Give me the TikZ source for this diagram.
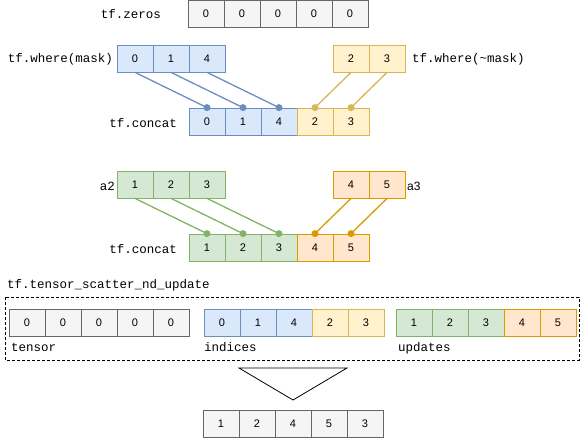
\documentclass[tikz,border=0pt]{standalone}
\usepackage{fontspec}
\setmainfont{Liberation Sans}
\setmonofont{Liberation Mono}
\definecolor{grayfill}{HTML}{F5F5F5}
\definecolor{graydraw}{HTML}{666666}
\definecolor{bluefill}{HTML}{DAE8FC}
\definecolor{bluedraw}{HTML}{6C8EBF}
\definecolor{yelfill}{HTML}{FFF2CC}
\definecolor{yeldraw}{HTML}{D6B656}
\definecolor{grnfill}{HTML}{D5E8D4}
\definecolor{grndraw}{HTML}{82B366}
\definecolor{orgfill}{HTML}{FFE6CC}
\definecolor{orgdraw}{HTML}{D79B00}

\begin{document}
\begin{tikzpicture}[x=1pt,y=-1pt,
  cell/.style={rectangle,draw,line width=0.8pt,minimum width=36pt,minimum height=27pt,inner sep=0pt,font=\fontsize{11}{13}\selectfont},
  gcell/.style={cell,draw=graydraw,fill=grayfill},
  bcell/.style={cell,draw=bluedraw,fill=bluefill},
  ycell/.style={cell,draw=yeldraw,fill=yelfill},
  ncell/.style={cell,draw=grndraw,fill=grnfill},
  ocell/.style={cell,draw=orgdraw,fill=orgfill},
  lbl/.style={font=\ttfamily\fontsize{12.5}{14}\selectfont,inner sep=0pt},
  link/.style={line width=1.3pt},
  dot/.style={circle,fill,inner sep=0pt,minimum size=7pt}]
\useasboundingbox (0,0) rectangle (582,442);

% zeros and the two where results
\foreach \v [count=\i] in {0,0,0,0,0} \node[gcell] (zr\i) at (170+36*\i,14) {\v};
\foreach \v [count=\i] in {0,1,4} \node[bcell] (wm\i) at (99+36*\i,58.5) {\v};
\foreach \v [count=\i] in {2,3} \node[ycell] (wn\i) at (315+36*\i,58.5) {\v};
\foreach \v/\s [count=\i] in {0/bcell,1/bcell,4/bcell,2/ycell,3/ycell}
  \node[\s] (cc\i) at (171+36*\i,121.5) {\v};

\node[lbl,anchor=east] (lzr) at (161,14) {tf.zeros};
\node[lbl,anchor=east] (lwm) at (113,59) {tf.where(mask)};
\node[lbl,anchor=west] (lwn) at (412,59) {tf.where(\textasciitilde mask)};
\node[lbl,anchor=east] (lcc) at (177,123) {tf.concat};

\foreach \i/\j in {1/1,2/2,3/3} \draw[link,bluedraw] (wm\i.south) -- (cc\j.north) node[dot]{};
\foreach \i/\j in {1/4,2/5} \draw[link,yeldraw] (wn\i.south) -- (cc\j.north) node[dot]{};

% a2 and a3
\foreach \v [count=\i] in {1,2,3} \node[ncell] (at\i) at (99+36*\i,184.5) {\v};
\foreach \v [count=\i] in {4,5} \node[ocell] (ah\i) at (315+36*\i,184.5) {\v};
\foreach \v/\s [count=\i] in {1/ncell,2/ncell,3/ncell,4/ocell,5/ocell}
  \node[\s] (cd\i) at (171+36*\i,247.5) {\v};

\node[lbl,anchor=east] (lat) at (115,186) {a2};
\node[anchor=west,inner sep=0pt,font=\fontsize{12}{14}\selectfont] (lah) at (407,186) {a3};
\node[lbl,anchor=east] (lcd) at (177,249) {tf.concat};

\foreach \i/\j in {1/1,2/2,3/3} \draw[link,grndraw] (at\i.south) -- (cd\j.north) node[dot]{};
\foreach \i/\j in {1/4,2/5} \draw[link,orgdraw] (ah\i.south) -- (cd\j.north) node[dot]{};

% scatter update
\node[lbl,anchor=west] (lsc) at (7,285) {tf.tensor\_scatter\_nd\_update};
\draw[dash pattern=on 3pt off 2pt,line width=0.8pt] (5,297) rectangle (579,360);

\foreach \v [count=\i] in {0,0,0,0,0} \node[gcell] (tn\i) at (-9+36*\i,322.5) {\v};
\foreach \v/\s [count=\i] in {0/bcell,1/bcell,4/bcell,2/ycell,3/ycell}
  \node[\s] (ix\i) at (186+36*\i,322.5) {\v};
\foreach \v/\s [count=\i] in {1/ncell,2/ncell,3/ncell,4/ocell,5/ocell}
  \node[\s] (up\i) at (378+36*\i,322.5) {\v};

\node[lbl,anchor=west] (ltn) at (11,347) {tensor};
\node[lbl,anchor=west] (lix) at (204,347) {indices};
\node[lbl,anchor=west] (lup) at (398,348) {updates};

\draw[line width=0.8pt] (239,368) -- (347,368) -- (293,400) -- cycle;

\foreach \v [count=\i] in {1,2,4,5,3} \node[gcell] (res\i) at (185+36*\i,423.5) {\v};
\end{tikzpicture}
\end{document}
